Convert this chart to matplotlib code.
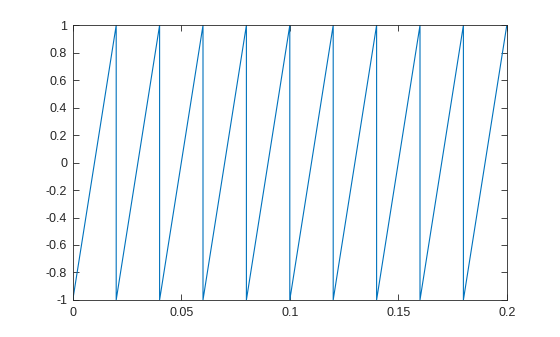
import matplotlib.pyplot as plt

# sawtooth vertices: rise from -1 to 1 over each 0.02 s period, then drop back
period_starts = [0.0, 0.02, 0.04, 0.06, 0.08, 0.10, 0.12, 0.14, 0.16, 0.18]
period_ends = [0.02, 0.04, 0.06, 0.08, 0.10, 0.12, 0.14, 0.16, 0.18, 0.20]
low_value = -1.0
high_value = 1.0

x_ticks = [0, 0.05, 0.1, 0.15, 0.2]
x_tick_labels = ["0", "0.05", "0.1", "0.15", "0.2"]
y_ticks = [-1, -0.8, -0.6, -0.4, -0.2, 0, 0.2, 0.4, 0.6, 0.8, 1]
y_tick_labels = ["-1", "-0.8", "-0.6", "-0.4", "-0.2", "0", "0.2", "0.4", "0.6", "0.8", "1"]

t = []
y = []
for a, b in zip(period_starts, period_ends):
    t += [a, b]
    y += [low_value, high_value]

plt.rcParams['font.family'] = ['Liberation Sans', 'DejaVu Sans']

fig = plt.figure(figsize=(5.6, 3.37), dpi=100)
ax = fig.add_axes([0.13, 0.11, 0.775, 0.815])
ax.plot(t, y, color="#0072BD", lw=0.8)

ax.set_xlim(0, 0.2)
ax.set_ylim(-1, 1)
ax.set_xticks(x_ticks)
ax.set_xticklabels(x_tick_labels)
ax.set_yticks(y_ticks)
ax.set_yticklabels(y_tick_labels)

axis_color = "#262626"
for s in ax.spines.values():
    s.set_color(axis_color)
    s.set_linewidth(0.6)
ax.tick_params(direction="in", top=True, right=True, length=4, width=0.6,
               colors=axis_color, labelsize=9)
ax.tick_params(axis="x", pad=5)
ax.tick_params(axis="y", pad=4)

fig.savefig("out.png", dpi=100)
